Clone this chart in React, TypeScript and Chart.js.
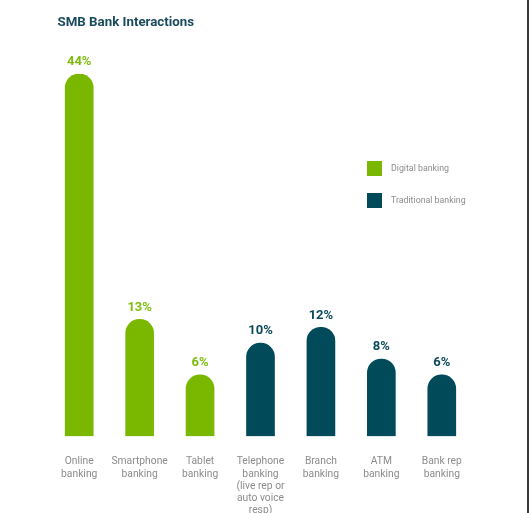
import React, { useEffect, useRef } from "react";
import { Chart, registerables } from "chart.js";

Chart.register(...registerables);

const categories: string[][] = [
  ["Online", "banking"],
  ["Smartphone", "banking"],
  ["Tablet", "banking"],
  ["Telephone", "banking", "(live rep or", "auto voice", "resp)"],
  ["Branch", "banking"],
  ["ATM", "banking"],
  ["Bank rep", "banking"],
];
const digitalValues: (number | null)[] = [44, 13, 6, null, null, null, null];
const traditionalValues: (number | null)[] = [null, null, null, 10, 12, 8, 6];
const seriesNames = ["Digital banking", "Traditional banking"];
const seriesColors = ["#7AB800", "#004A59"];
const labelColors = ["#80BC10", "#0D4A5A"];
const titleText = "SMB Bank Interactions";

const FONT = "Roboto, 'Noto Sans', sans-serif";
const BASE = -1.75;

const valueLabelPlugin = {
  id: "valueLabels",
  afterDatasetsDraw(chart: any) {
    const ctx = chart.ctx;
    ctx.save();
    ctx.font = `bold 13px ${FONT}`;
    ctx.textAlign = "center";
    ctx.textBaseline = "middle";
    chart.data.datasets.forEach((ds: any, di: number) => {
      const meta = chart.getDatasetMeta(di);
      meta.data.forEach((bar: any, i: number) => {
        const v = ds.data[i];
        if (v === null || v === undefined) return;
        ctx.fillStyle = labelColors[di];
        ctx.fillText(`${v}%`, bar.x, bar.y - 12);
      });
    });
    ctx.restore();
  },
};

const titleLegendPlugin = {
  id: "titleLegend",
  afterDraw(chart: any) {
    const ctx = chart.ctx;
    ctx.save();
    ctx.font = `bold 13.3px ${FONT}`;
    ctx.fillStyle = "#1A4B5C";
    ctx.textAlign = "left";
    ctx.textBaseline = "middle";
    ctx.fillText(titleText, 57.5, 23);
    ctx.font = `8.8px ${FONT}`;
    chart.data.datasets.forEach((ds: any, i: number) => {
      const y = 161 + i * 32;
      ctx.fillStyle = ds.backgroundColor;
      ctx.fillRect(367, y, 15, 15);
      ctx.fillStyle = "#8C8C8C";
      ctx.fillText(ds.label, 391, y + 7.8);
    });
    ctx.restore();
  },
};

export default function App() {
  const ref = useRef<HTMLCanvasElement | null>(null);
  useEffect(() => {
    if (!ref.current) return;
    const chart = new Chart(ref.current, {
      type: "bar",
      data: {
        labels: categories,
        datasets: [
          {
            label: seriesNames[0],
            data: digitalValues,
            backgroundColor: seriesColors[0],
            base: BASE,
          } as any,
          {
            label: seriesNames[1],
            data: traditionalValues,
            backgroundColor: seriesColors[1],
            base: BASE,
          } as any,
        ],
      },
      options: {
        animation: false,
        responsive: false,
        devicePixelRatio: 1,
        layout: { padding: { left: 49, right: 57, top: 74, bottom: -23.5 } },
        datasets: {
          bar: {
            grouped: false,
            barThickness: 28,
            borderRadius: 14,
            borderSkipped: "start",
          },
        } as any,
        plugins: {
          legend: { display: false },
          title: { display: false },
          tooltip: { enabled: false },
        },
        scales: {
          x: {
            grid: { display: false, drawTicks: false },
            border: { display: false },
            ticks: {
              color: "#8C8C8C",
              font: { family: FONT, size: 10.3, lineHeight: 1.19 },
              padding: 19.5,
              maxRotation: 0,
              autoSkip: false,
            },
          },
          y: {
            display: false,
            min: BASE,
            max: 44,
          },
        },
      },
      plugins: [valueLabelPlugin, titleLegendPlugin],
    });
    return () => chart.destroy();
  }, []);

  return (
    <div
      style={{
        position: "absolute",
        left: 0,
        top: 0,
        width: 529,
        height: 513,
        overflow: "hidden",
        background: "#fff",
      }}
    >
      <canvas ref={ref} width={529} height={513} style={{ position: "absolute", left: 0, top: 0 }} />
      <div
        style={{
          position: "absolute",
          left: 527,
          top: 0,
          width: 2,
          height: 513,
          background: "#3A3A3A",
        }}
      />
    </div>
  );
}
